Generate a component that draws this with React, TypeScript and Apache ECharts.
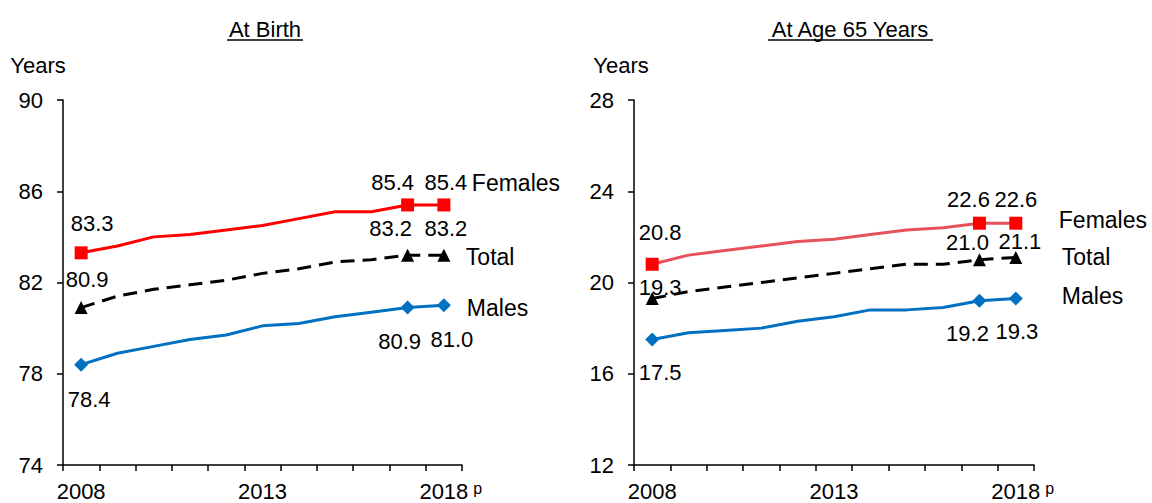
import React, { useEffect, useRef } from "react";
import * as echarts from "echarts";

const years = ["2008", "2009", "2010", "2011", "2012", "2013", "2014", "2015", "2016", "2017", "2018"];

const birthFemales = [83.3, 83.6, 84.0, 84.1, 84.3, 84.5, 84.8, 85.1, 85.1, 85.4, 85.4];
const birthTotal = [80.9, 81.4, 81.7, 81.9, 82.1, 82.4, 82.6, 82.9, 83.0, 83.2, 83.2];
const birthMales = [78.4, 78.9, 79.2, 79.5, 79.7, 80.1, 80.2, 80.5, 80.7, 80.9, 81.0];

const age65Females = [20.8, 21.2, 21.4, 21.6, 21.8, 21.9, 22.1, 22.3, 22.4, 22.6, 22.6];
const age65Total = [19.3, 19.6, 19.8, 20.0, 20.2, 20.4, 20.6, 20.8, 20.8, 21.0, 21.1];
const age65Males = [17.5, 17.8, 17.9, 18.0, 18.3, 18.5, 18.8, 18.8, 18.9, 19.2, 19.3];

const birthTicks = { min: 74, max: 90, interval: 4 };
const age65Ticks = { min: 12, max: 28, interval: 4 };

const markedIdx = [0, 9, 10];

const FONT = "'Liberation Sans', Arial, sans-serif";
const FS = 22;

function makeSeries(
  name: string,
  values: number[],
  axis: number,
  lineColor: string,
  markerColor: string,
  symbol: string,
  symbolSize: number,
  dashed: boolean,
  labelOffsets: number[][],
  endOffset: number[]
) {
  return {
    type: "line",
    name,
    xAxisIndex: axis,
    yAxisIndex: axis,
    silent: true,
    z: dashed ? 3 : 2,
    data: values.map((v, i) => {
      const m = markedIdx.indexOf(i);
      if (m >= 0) {
        return {
          value: v,
          symbol,
          symbolSize,
          label: {
            show: true,
            position: "inside",
            offset: labelOffsets[m],
            formatter: (p: any) => Number(p.value).toFixed(1),
          },
        };
      }
      return { value: v, symbol: "none" };
    }),
    lineStyle: { color: lineColor, width: 3, type: dashed ? [14, 8] : "solid" },
    itemStyle: { color: markerColor },
    label: { show: false, color: "#000", fontSize: FS, fontFamily: FONT },
    endLabel: {
      show: true,
      formatter: () => name,
      offset: endOffset,
      color: "#000",
      fontSize: FS + 1,
      fontFamily: FONT,
      align: "left",
      verticalAlign: "middle",
    },
  };
}

function xAxisFor(grid: number) {
  const last = years[years.length - 1];
  return {
    type: "category",
    gridIndex: grid,
    data: years,
    boundaryGap: true,
    axisLine: { lineStyle: { color: "#000", width: 1.5 } },
    axisTick: { show: true, interval: 0, length: 6, lineStyle: { color: "#000", width: 1.5 } },
    axisLabel: {
      interval: 4,
      margin: 15,
      color: "#000",
      fontSize: FS,
      fontFamily: FONT,
      formatter: (v: string) => (v === last ? `{s|p}{n|${v}}{p|p}` : `{s|p}{n|${v}}{s|p}`),
      rich: {
        n: { fontSize: FS, lineHeight: 22, fontFamily: FONT, color: "#000" },
        p: { fontSize: 16, lineHeight: 10, verticalAlign: "top", fontFamily: FONT, color: "#000", padding: [0, 0, 12, 5] },
        s: { fontSize: 16, lineHeight: 10, verticalAlign: "top", fontFamily: FONT, color: "transparent", padding: [0, 0, 12, 5] },
      },
    },
    splitLine: { show: false },
  };
}

function yAxisFor(grid: number, ticks: { min: number; max: number; interval: number }, namePadR: number) {
  return {
    type: "value",
    gridIndex: grid,
    min: ticks.min,
    max: ticks.max,
    interval: ticks.interval,
    name: "Years",
    nameLocation: "end",
    nameGap: 35,
    nameTextStyle: {
      color: "#000",
      fontSize: FS,
      fontFamily: FONT,
      align: "center",
      verticalAlign: "middle",
      padding: [0, namePadR, 0, 0],
    },
    axisLine: { show: true, lineStyle: { color: "#000", width: 1.5 } },
    axisTick: { show: true, length: 6, lineStyle: { color: "#000", width: 1.5 } },
    axisLabel: { color: "#000", fontSize: FS, fontFamily: FONT, margin: 20 },
    splitLine: { show: false },
  };
}

export default function App() {
  const ref = useRef<HTMLDivElement>(null);
  useEffect(() => {
    if (!ref.current) return;
    const chart = echarts.init(ref.current, undefined, { renderer: "svg" });
    chart.setOption({
      animation: false,
      backgroundColor: "#fff",
      textStyle: { fontFamily: FONT },
      grid: [
        { left: 63, top: 100, width: 399, height: 365, outerBoundsMode: "none", containLabel: false },
        { left: 634, top: 100, width: 400, height: 365, outerBoundsMode: "none", containLabel: false },
      ],
      xAxis: [xAxisFor(0), xAxisFor(1)],
      yAxis: [yAxisFor(0, birthTicks, 50), yAxisFor(1, age65Ticks, 26)],
      graphic: [
        {
          type: "text",
          x: 265,
          y: 29,
          style: {
            text: "At Birth",
            fontSize: FS,
            fontFamily: FONT,
            fill: "#000",
            align: "center",
            verticalAlign: "middle",
          },
        },
        { type: "line", shape: { x1: 227, y1: 40, x2: 303, y2: 40 }, style: { stroke: "#000", lineWidth: 1.5 } },
        {
          type: "text",
          x: 850,
          y: 29,
          style: {
            text: "At Age 65 Years",
            fontSize: FS,
            fontFamily: FONT,
            fill: "#000",
            align: "center",
            verticalAlign: "middle",
          },
        },
        { type: "line", shape: { x1: 768, y1: 40, x2: 933, y2: 40 }, style: { stroke: "#000", lineWidth: 1.5 } },
      ],
      series: [
        makeSeries("Females", birthFemales, 0, "#FF0000", "#FF0000", "rect", 13, false,
          [[11, -29], [-15, -22], [2, -22]], [20, -22]),
        makeSeries("Total", birthTotal, 0, "#000000", "#000000", "triangle", 13, true,
          [[6, -28], [-17, -27], [2, -27]], [14, 2]),
        makeSeries("Males", birthMales, 0, "#0070C0", "#0070C0", "diamond", 14, false,
          [[8, 35], [-8, 34], [8, 34]], [15, 3]),
        makeSeries("Females", age65Females, 1, "#E8505B", "#FF0000", "rect", 13, false,
          [[8, -32], [-11, -24], [0, -24]], [35, -3]),
        makeSeries("Total", age65Total, 1, "#000000", "#000000", "triangle", 13, true,
          [[8, -11], [-12, -17], [4, -16]], [38, 0]),
        makeSeries("Males", age65Males, 1, "#0070C0", "#0070C0", "diamond", 14, false,
          [[8, 33], [-12, 33], [1, 33]], [38, -2]),
      ],
    });
    return () => chart.dispose();
  }, []);
  return (
    <div
      ref={ref}
      style={{ position: "absolute", left: 0, top: 0, width: 1152, height: 503, background: "#fff" }}
    />
  );
}
